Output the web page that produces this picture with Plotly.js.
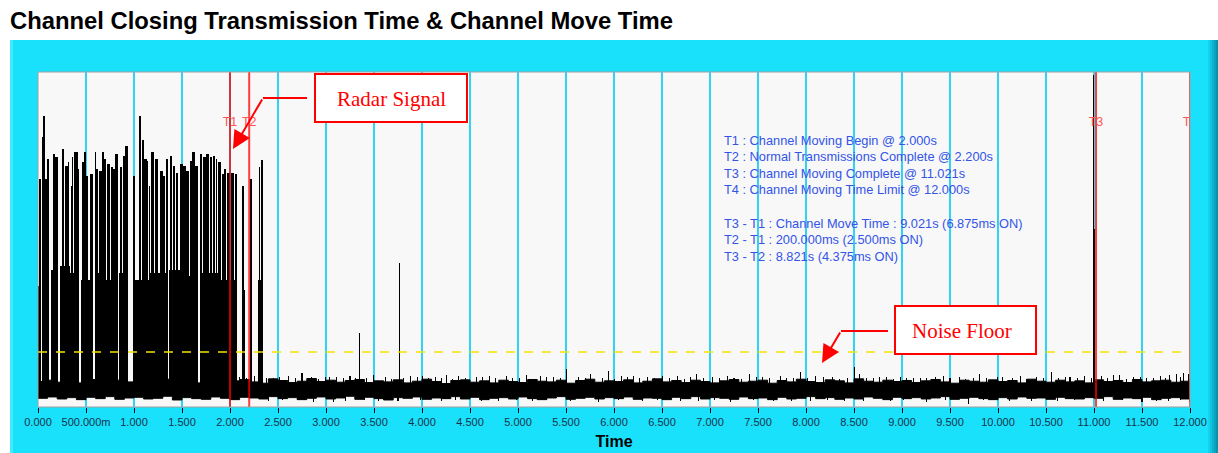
<!DOCTYPE html>
<html><head><meta charset="utf-8">
<script src="https://cdn.plot.ly/plotly-3.0.1.min.js"></script>
<style>html,body{margin:0;padding:0;background:#fff;}#chart{width:1218px;height:453px;}</style>
</head><body><div id="chart"></div>
<script>
// ---------------- DATA ----------------
const chartTitle = "Channel Closing Transmission Time & Channel Move Time";
const xTitle = "Time";
const tickVals = [0,0.5,1,1.5,2,2.5,3,3.5,4,4.5,5,5.5,6,6.5,7,7.5,8,8.5,9,9.5,10,10.5,11,11.5,12];
const tickText = ["0.000","500.000m","1.000","1.500","2.000","2.500","3.000","3.500","4.000","4.500","5.000","5.500","6.000","6.500","7.000","7.500","8.000","8.500","9.000","9.500","10.000","10.500","11.000","11.500","12.000"];

const markerNames = ["T1","T2","T3","T4"];
const markerTimes = [2.0, 2.2, 11.021, 12.0];
const noiseFloorLevel = 16.4;

const infoLines = [
  "T1 : Channel Moving Begin @ 2.000s",
  "T2 : Normal Transmissions Complete @ 2.200s",
  "T3 : Channel Moving Complete @ 11.021s",
  "T4 : Channel Moving Time Limit @ 12.000s",
  "",
  "T3 - T1 : Channel Move Time : 9.021s (6.875ms ON)",
  "T2 - T1 : 200.000ms (2.500ms ON)",
  "T3 - T2 : 8.821s (4.375ms ON)"
];
const calloutRadar = "Radar Signal";
const calloutNoise = "Noise Floor";

// radar pulse columns (start s, end s, relative amplitude)
const colStart = [0.007,0.042,0.056,0.069,0.094,0.160,0.181,0.250,0.285,0.313,0.340,0.354,0.372,0.396,0.417,0.455,0.476,0.500,0.542,0.590,0.608,0.639,0.663,0.688,0.722,0.764,0.785,0.806,0.854,0.882,0.910,0.993,1.049,1.080,1.108,1.132,1.152,1.178,1.218,1.270,1.306,1.330,1.370,1.402,1.434,1.482,1.512,1.545,1.580,1.609,1.637,1.688,1.718,1.752,1.790,1.822,1.851,1.880,1.912,1.940,1.964,2.006,2.052,2.130,2.206,2.297,2.324,3.350,3.764,10.986];
const colEnd   = [0.028,0.056,0.069,0.090,0.118,0.177,0.208,0.271,0.309,0.326,0.352,0.369,0.393,0.414,0.431,0.474,0.500,0.521,0.569,0.606,0.628,0.663,0.688,0.708,0.750,0.785,0.806,0.830,0.876,0.906,0.937,1.010,1.075,1.105,1.132,1.150,1.170,1.206,1.246,1.305,1.328,1.352,1.398,1.428,1.462,1.508,1.538,1.570,1.606,1.634,1.666,1.712,1.745,1.786,1.815,1.848,1.868,1.906,1.934,1.960,2.002,2.040,2.072,2.148,2.224,2.315,2.346,3.357,3.771,10.997];
const colPeak  = [68,80.5,87,68,74,75.5,74.5,77,72,73,66,74.5,76,76,71,73,76,69,69.5,76,71,70.5,76,74,72.5,71.5,71,75.5,71.5,75,78,69,87,79.7,74,73.5,66,76,74,70.5,69,74,75,72,70,72.5,72,70.5,73.5,76,72,75.5,74.5,75.5,74.5,75,74,73,69.5,71,70,70,69.5,66,68,71.5,73.7,41,43,99];

// dense lower part of the bursts
const bodyStart = [0.004,0.040,0.139,0.226,0.330,0.452,0.589,0.700,0.847,0.990,1.160,1.368,1.520,1.688,1.880,2.125,2.292,3.340,3.757,10.986];
const bodyEnd   = [0.028,0.118,0.208,0.330,0.431,0.569,0.700,0.833,0.937,1.160,1.354,1.520,1.667,1.880,2.076,2.153,2.346,3.352,3.768,11.008];
const bodyTop   = [36,39,41,42,40,38,40,38,40,38,40,41,39,40,38,35,38,22,25,53];

// noise floor envelope, one value every 0.1 s from 0 to 12 s
const noiseHi = [
7.6,8.0,7.4,7.9,7.2,8.2,7.7,7.3,8.0,7.5,
7.9,7.1,7.8,8.3,7.4,7.7,7.2,8.1,7.6,7.0,
7.8,8.2,7.5,7.1,8.4,7.9,7.3,7.7,8.5,7.6,
8.0,7.4,7.9,8.2,7.3,7.8,7.5,8.1,7.2,7.7,
8.3,7.6,7.0,7.9,8.1,7.4,7.8,7.2,8.0,7.6,
7.3,8.2,7.7,7.5,8.0,7.1,7.9,8.3,7.4,7.8,
7.6,8.1,7.2,7.7,8.4,7.5,7.9,7.3,8.0,7.6,
7.2,7.8,8.2,7.4,7.7,8.0,7.1,7.9,7.5,8.3,
7.6,7.3,8.1,7.8,7.2,8.4,7.7,7.4,8.0,7.6,
7.9,7.3,7.8,8.2,7.5,7.1,8.0,7.7,7.4,8.1,
7.6,7.9,7.2,8.3,7.7,7.4,8.0,7.5,7.8,7.2,
8.1,7.6,7.9,7.3,8.2,7.5,7.8,8.0,7.4,7.7,
8.3];
const noiseLo = [
2.6,3.0,2.4,2.8,2.2,2.9,2.5,3.1,2.3,2.7,
2.9,2.4,2.6,3.2,2.1,2.8,2.5,2.3,3.0,2.6,
2.2,2.9,2.7,2.4,3.1,2.5,2.8,2.2,2.6,3.0,
2.4,2.7,3.2,2.3,2.9,2.5,2.1,2.8,2.6,3.0,
2.3,2.7,2.5,3.1,2.4,2.9,2.2,2.6,2.8,2.4,
3.0,2.5,2.2,2.7,3.1,2.3,2.6,2.9,2.4,2.8,
2.5,3.0,2.3,2.7,2.6,2.2,2.9,2.5,3.1,2.4,
2.8,2.6,2.3,3.0,2.5,2.7,2.2,2.9,2.4,2.6,
3.1,2.5,2.8,2.3,2.7,2.4,3.0,2.6,2.2,2.9,
2.5,2.8,2.4,2.7,3.1,2.3,2.6,2.9,2.5,2.2,
2.8,2.4,3.0,2.6,2.7,2.3,2.9,2.5,2.4,2.8,
2.6,3.1,2.3,2.7,2.5,2.9,2.2,2.6,2.8,2.4,
2.7];

// isolated noise spikes (up) and dips (down)
const spikeT   = [2.10,2.17,2.26,2.38,2.52,2.61,2.75,2.85,2.99,3.11,3.25,3.49,3.62,3.88,4.01,4.14,4.26,4.38,4.57,4.70,4.88,5.09,5.23,5.37,5.51,5.63,5.76,5.94,6.08,6.20,6.35,6.51,6.66,6.86,7.03,7.18,7.41,7.55,7.73,7.94,8.10,8.28,8.51,8.56,8.77,8.98,9.19,9.43,9.60,9.81,9.99,10.23,10.40,10.56,10.75,10.90,11.08,11.20,11.27,11.41,11.55,11.69,11.79,11.86,11.93,11.98];
const spikeTop = [9.0,8.8,9.4,8.8,8.9,9.2,10.1,8.9,9.0,9.1,9.3,9.6,8.9,9.2,9.3,8.9,9.6,9.4,9.0,9.2,9.4,9.6,9.3,9.0,11.2,9.1,10.0,10.8,9.2,9.4,9.0,9.2,9.3,10.0,9.0,9.3,10.0,9.1,9.4,10.5,9.2,9.0,12.0,9.9,9.0,8.9,8.6,9.3,9.0,10.0,8.9,9.3,9.0,10.5,8.9,9.2,9.4,9.6,9.6,9.0,8.6,9.3,9.5,9.9,10.2,9.8];
const minorSpikeT   = [2.45,2.68,2.92,3.04,3.18,3.31,3.42,3.68,3.81,3.95,4.07,4.20,4.32,4.45,4.63,4.77,4.94,5.02,5.16,5.30,5.44,5.70,5.88,6.01,6.14,6.27,6.42,6.58,6.73,6.80,6.93,7.10,7.25,7.33,7.48,7.62,7.80,7.87,8.02,8.18,8.35,8.43,8.63,8.70,8.84,8.91,9.05,9.12,9.26,9.35,9.50,9.66,9.74,9.88,10.05,10.15,10.30,10.47,10.63,10.70,10.83,10.97,11.14,11.34,11.48,11.62,11.74,11.90];
const minorSpikeTop = [8.6,8.8,8.5,8.9,8.7,8.6,8.8,8.5,8.7,8.9,8.6,8.8,8.5,8.7,8.9,8.6,8.8,8.7,8.5,8.9,8.6,8.8,8.7,8.5,8.9,8.6,8.8,8.7,8.5,8.9,8.6,8.7,8.8,8.5,8.9,8.6,8.7,8.8,8.6,8.9,8.5,8.7,8.8,8.6,8.9,8.5,8.7,8.8,8.6,8.9,8.7,8.5,8.8,8.6,8.9,8.7,8.5,8.8,8.6,8.9,8.7,8.6,8.8,8.5,8.9,8.7,8.6,9.0];
const dipT      = [2.40,2.87,3.08,3.55,4.20,4.62,5.15,5.84,6.30,6.69,7.21,7.66,8.05,8.40,8.88,9.26,9.69,10.12,10.62,11.10,11.50,11.78,11.99];
const dipBottom = [1.8,1.6,1.6,1.9,1.8,1.7,1.9,1.5,1.8,1.7,1.6,1.9,1.8,1.7,1.8,1.6,0.9,1.8,1.7,1.9,1.6,1.8,1.6];
const minorDipT      = [2.55,2.70,3.20,3.40,3.75,3.98,4.35,4.80,4.98,5.30,5.55,6.05,6.45,6.88,7.05,7.45,7.85,8.22,8.60,9.02,9.45,9.85,10.35,10.80,11.30,11.65,11.90];
const minorDipBottom = [2.0,2.2,1.9,2.1,1.8,2.0,2.2,1.9,2.1,2.0,1.8,2.2,2.0,1.9,2.1,2.2,1.9,2.0,1.8,2.1,2.0,2.2,1.9,2.1,2.0,1.8,2.1];

// ---------------- LAYOUT HELPERS ----------------
const L = 38, R = 1190, T = 72, B = 407;
const px2x = p => (p - L) / (R - L);
const py2y = p => (B - p) / (B - T);
const SANS = "Liberation Sans, Arial, sans-serif";
const SERIF = "Liberation Serif, Times New Roman, serif";
const BASE = 4;
const blackBar = {color:"#000", opacity:1, line:{width:0}};
const skip = "skip";

const traces = [
  {type:"bar", x: bodyStart.map((s,i)=>(s+bodyEnd[i])/2), y: bodyTop.map(v=>v-BASE),
   width: bodyStart.map((s,i)=>bodyEnd[i]-s), base: BASE, marker: blackBar, hoverinfo:skip},
  {type:"bar", x: colStart.map((s,i)=>(s+colEnd[i])/2), y: colPeak.map(v=>v-BASE),
   width: colStart.map((s,i)=>colEnd[i]-s), base: BASE, marker: blackBar, hoverinfo:skip},
  {type:"bar", x: spikeT, y: spikeTop.map(v=>v-5), width: 0.011, base: 5, marker: blackBar, hoverinfo:skip},
  {type:"bar", x: minorSpikeT, y: minorSpikeTop.map(v=>v-5), width: 0.011, base: 5, marker: blackBar, hoverinfo:skip},
  {type:"bar", x: dipT, y: dipBottom.map(v=>BASE-v), width: 0.011, base: dipBottom, marker: blackBar, hoverinfo:skip},
  {type:"bar", x: minorDipT, y: minorDipBottom.map(v=>BASE-v), width: 0.011, base: minorDipBottom, marker: blackBar, hoverinfo:skip},
  {type:"scatter", mode:"lines", x0:0, dx:0.1, y: noiseLo, line:{shape:"hv", color:"#000", width:1}, hoverinfo:skip},
  {type:"scatter", mode:"lines", x0:0, dx:0.1, y: noiseHi, fill:"tonexty", fillcolor:"#000",
   line:{shape:"hv", color:"#000", width:1}, hoverinfo:skip},
  {type:"scatter", mode:"lines", x:[tickVals[0], tickVals[tickVals.length-1]], y:[noiseFloorLevel, noiseFloorLevel],
   line:{color:"#F2E205", width:1.5, dash:"dash"}, hoverinfo:skip},
  {type:"scatter", mode:"lines", cliponaxis:false,
   x: markerTimes.flatMap(t=>[t,t,null]), y: markerTimes.flatMap(()=>[0,100,null]),
   line:{color:"rgba(255,0,0,0.75)", width:2}, hoverinfo:skip},
  {type:"scatter", mode:"text", cliponaxis:true, x: markerTimes, y: markerTimes.map(()=>84.8),
   text: markerNames, textposition:"middle center", textfont:{family:SANS, size:12.5, color:"#FF5555"}, hoverinfo:skip}
];

const shapes = [
  {type:"rect", xref:"paper", yref:"paper", x0:px2x(0), x1:px2x(1218), y0:py2y(40), y1:py2y(-2), fillcolor:"#fff", line:{width:0}, layer:"below"},
  {type:"rect", xref:"paper", yref:"paper", x0:px2x(0), x1:px2x(10), y0:py2y(455), y1:py2y(38), fillcolor:"#fff", line:{width:0}, layer:"below"},
  {type:"rect", xref:"paper", yref:"paper", x0:px2x(10), x1:px2x(13), y0:py2y(455), y1:py2y(40), fillcolor:"#45E9FF", line:{width:0}, layer:"below"},
  {type:"rect", xref:"paper", yref:"paper", x0:px2x(1208), x1:px2x(1210), y0:py2y(455), y1:py2y(40), fillcolor:"#14D2EE", line:{width:0}, layer:"below"},
  {type:"rect", xref:"paper", yref:"paper", x0:px2x(1210), x1:px2x(1212), y0:py2y(455), y1:py2y(40), fillcolor:"#10C3DF", line:{width:0}, layer:"below"},
  {type:"rect", xref:"paper", yref:"paper", x0:px2x(1212), x1:px2x(1214), y0:py2y(455), y1:py2y(40), fillcolor:"#0CB3CE", line:{width:0}, layer:"below"},
  {type:"rect", xref:"paper", yref:"paper", x0:px2x(1214), x1:px2x(1216), y0:py2y(455), y1:py2y(40), fillcolor:"#0AA3BD", line:{width:0}, layer:"below"},
  {type:"rect", xref:"paper", yref:"paper", x0:px2x(1216), x1:px2x(1219), y0:py2y(455), y1:py2y(40), fillcolor:"#0893AC", line:{width:0}, layer:"below"},
  {type:"rect", xref:"paper", yref:"paper", x0:0, x1:1, y0:0, y1:1, line:{color:"#A0A0A0", width:1}, fillcolor:"rgba(0,0,0,0)", layer:"above"},
  {type:"rect", xref:"paper", yref:"paper", x0:px2x(315), x1:px2x(467), y0:py2y(122), y1:py2y(74), fillcolor:"#fff", line:{color:"#FF0000", width:2}, layer:"above"},
  {type:"rect", xref:"paper", yref:"paper", x0:px2x(895), x1:px2x(1036), y0:py2y(354), y1:py2y(306), fillcolor:"#fff", line:{color:"#FF0000", width:2}, layer:"above"},
  {type:"line", xref:"paper", yref:"paper", x0:px2x(307), x1:px2x(263), y0:py2y(98), y1:py2y(98), line:{color:"#FF0000", width:2}, layer:"above"},
  {type:"line", xref:"paper", yref:"paper", x0:px2x(888), x1:px2x(841), y0:py2y(331), y1:py2y(331), line:{color:"#FF0000", width:2}, layer:"above"}
];

const annotations = [
  {xref:"paper", yref:"paper", x:px2x(391), y:py2y(99), text:calloutRadar, showarrow:false,
   font:{family:SERIF, size:21, color:"#FF0000"}, xanchor:"center", yanchor:"middle"},
  {xref:"paper", yref:"paper", x:px2x(962), y:py2y(331), text:calloutNoise, showarrow:false,
   font:{family:SERIF, size:21, color:"#FF0000"}, xanchor:"center", yanchor:"middle"},
  {xref:"paper", yref:"paper", x:px2x(233), y:py2y(149), text:"", showarrow:true, ax:30, ay:-51,
   arrowhead:2, arrowsize:1.8, arrowwidth:2, arrowcolor:"#FF0000", standoff:0},
  {xref:"paper", yref:"paper", x:px2x(822), y:py2y(363), text:"", showarrow:true, ax:19, ay:-32,
   arrowhead:2, arrowsize:1.8, arrowwidth:2, arrowcolor:"#FF0000", standoff:0}
];
infoLines.forEach((line, i) => {
  if (!line) return;
  annotations.push({xref:"paper", yref:"paper", x:px2x(722), y:py2y(140 + i*16.6), text:line, showarrow:false,
    xanchor:"left", yanchor:"middle", font:{family:SANS, size:12.8, color:"#3354E8"}});
});

const layout = {
  width:1218, height:453,
  margin:{l:L, r:1218-R, t:T, b:453-B, pad:0},
  paper_bgcolor:"#19E1FB", plot_bgcolor:"#F8F8F8",
  font:{family:SANS},
  showlegend:false, barmode:"overlay", bargap:0,
  title:{text:chartTitle, xref:"container", yref:"container", x:10/1218, xanchor:"left", y:1-21/453, yanchor:"middle",
         font:{family:SANS, size:23.8, weight:700, color:"#000"}},
  xaxis:{range:[0,12], tickmode:"array", tickvals:tickVals, ticktext:tickText,
         showgrid:true, gridcolor:"#32D2F2", gridwidth:1.5, zeroline:false, showline:false,
         ticks:"outside", ticklen:5, tickwidth:1, tickcolor:"#000",
         tickfont:{family:SANS, size:11, color:"#16324C"},
         title:{text:xTitle, font:{family:SANS, size:16, weight:700, color:"#000"}, standoff:8},
         fixedrange:true, automargin:false},
  yaxis:{range:[0,100], showgrid:false, zeroline:false, showticklabels:false, ticks:"", showline:false, fixedrange:true, automargin:false},
  shapes:shapes, annotations:annotations
};

Plotly.newPlot("chart", traces, layout, {staticPlot:true, displayModeBar:false});
</script></body></html>
